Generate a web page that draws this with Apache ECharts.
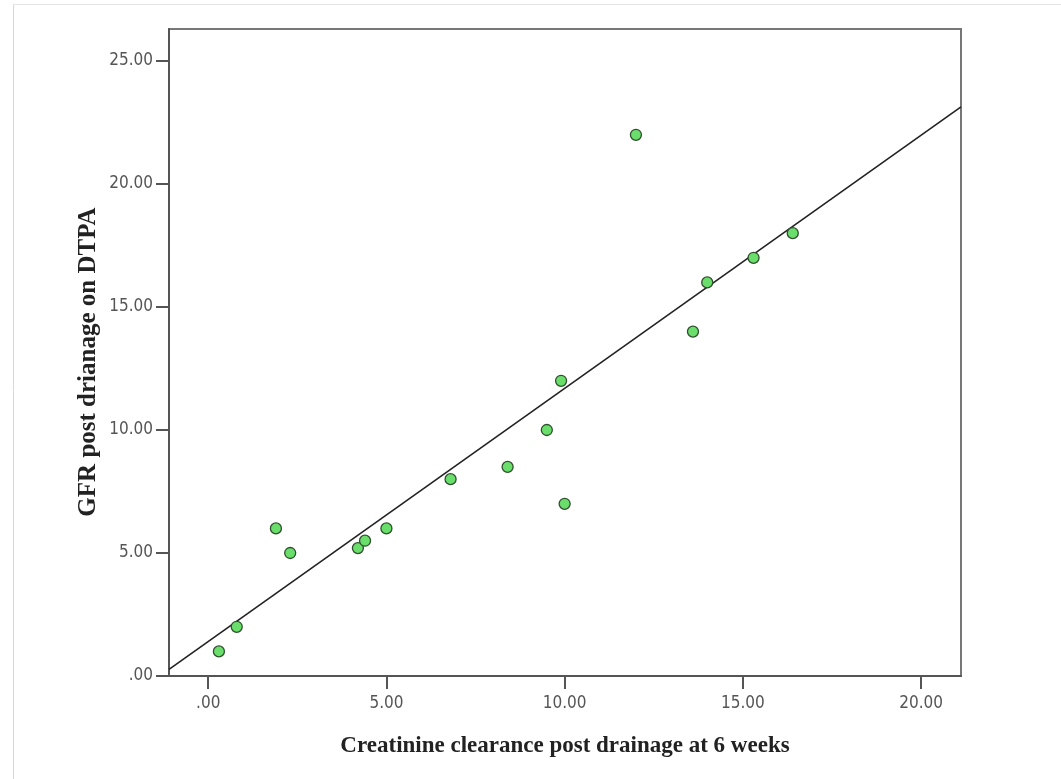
<!DOCTYPE html>
<html>
<head>
<meta charset="utf-8">
<script src="https://cdn.jsdelivr.net/npm/echarts@6/dist/echarts.min.js"></script>
<style>html,body{margin:0;padding:0;background:#fff;}#c{width:1061px;height:779px;}</style>
</head>
<body>
<div id="c"></div>
<script>
var creatinine = [0.3, 0.8, 1.9, 2.3, 4.2, 4.4, 5.0, 6.8, 8.4, 9.5, 9.9, 10.0, 12.0, 13.6, 14.0, 15.3, 16.4];
var gfr        = [1.0, 2.0, 6.0, 5.0, 5.2, 5.5, 6.0, 8.0, 8.5, 10.0, 12.0, 7.0, 22.0, 14.0, 16.0, 17.0, 18.0];
var xTicks = [0, 5, 10, 15, 20];
var yTicks = [0, 5, 10, 15, 20, 25];
var fitIntercept = 1.40;
var fitSlope = 1.029;
var xMin = -1.1, xMax = 21.12, yMin = 0, yMax = 26.3;
var xTitle = 'Creatinine clearance post drainage at 6 weeks';
var yTitle = 'GFR post drianage on DTPA';

var points = creatinine.map(function (x, i) { return [x, gfr[i]]; });
var fitLine = [[xMin, fitIntercept + fitSlope * xMin], [xMax, fitIntercept + fitSlope * xMax]];

function fmt(v) {
  var s = Number(v).toFixed(2);
  return s.indexOf('0.') === 0 ? s.slice(1) : s;
}

var chart = echarts.init(document.getElementById('c'));
chart.setOption({
  animation: false,
  backgroundColor: '#fff',
  graphic: [
    { type: 'line', shape: { x1: 13.5, y1: 4, x2: 13.5, y2: 779 }, style: { stroke: '#d8d8d8', lineWidth: 1 } },
    { type: 'line', shape: { x1: 13, y1: 4.5, x2: 1061, y2: 4.5 }, style: { stroke: '#e4e4e4', lineWidth: 1 } },
    { type: 'text', x: 89, y: 362, rotation: Math.PI / 2,
      style: { text: yTitle, x: 0, y: 0, align: 'center', verticalAlign: 'middle',
               font: 'bold 25px "Liberation Serif"', fill: '#222' } }
  ],
  grid: { left: 169, top: 29, right: 100, bottom: 103, show: true, borderColor: '#777', borderWidth: 2, containLabel: false },
  xAxis: {
    type: 'value', min: xMin, max: xMax,
    name: xTitle,
    nameLocation: 'middle', nameGap: 59,
    nameTextStyle: { fontFamily: 'Liberation Serif', fontWeight: 'bold', fontSize: 23, color: '#222' },
    axisLine: { show: true, onZero: false, lineStyle: { color: '#555', width: 2 } },
    axisTick: { show: true, inside: false, length: 13, customValues: xTicks, lineStyle: { color: '#555', width: 2 } },
    axisLabel: { customValues: xTicks, formatter: fmt, margin: 19, fontFamily: 'DejaVu Sans Condensed', fontSize: 17, color: '#555' },
    splitLine: { show: false }
  },
  yAxis: {
    type: 'value', min: yMin, max: yMax,
    axisLine: { show: true, onZero: false, lineStyle: { color: '#555', width: 2 } },
    axisTick: { show: true, inside: false, length: 13, customValues: yTicks, lineStyle: { color: '#555', width: 2 } },
    axisLabel: { customValues: yTicks, formatter: fmt, margin: 16, fontFamily: 'DejaVu Sans Condensed', fontSize: 17, color: '#555' },
    splitLine: { show: false }
  },
  series: [
    {
      type: 'line', data: fitLine, symbol: 'none', silent: true,
      lineStyle: { color: '#222', width: 1.6 }, z: 2
    },
    {
      type: 'scatter', data: points, symbol: 'circle', symbolSize: 11,
      itemStyle: { color: '#6ade6a', borderColor: '#2f4f2f', borderWidth: 1.3, opacity: 1 }, z: 3
    }
  ]
});
</script>
</body>
</html>
